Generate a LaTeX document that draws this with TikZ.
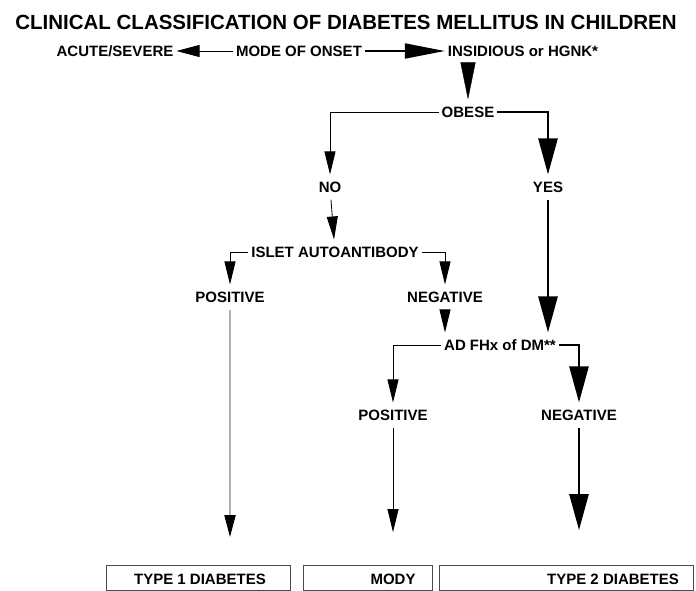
\documentclass[tikz,border=0pt]{standalone}
\usepackage{fontspec}
\setmainfont{Liberation Sans}
\usetikzlibrary{arrows.meta}
\tikzstyle{lbl} = [inner xsep=3pt, inner ysep=7pt, text height=10.7pt, text depth=0pt, font=\fontsize{15}{18}\selectfont\bfseries]
\tikzstyle{outbox} = [draw=black!70, line width=0.8pt, minimum height=25pt, inner sep=0pt]
\tikzstyle{arrow} = [line width=0.8pt, -{Triangle[length=23pt, width=11pt]}]
\tikzstyle{bigarrow} = [line width=2.6pt, -{Triangle[length=36pt, width=19pt]}]

\begin{document}
\begin{tikzpicture}[x=1pt, y=-1pt]
      \useasboundingbox (0,0) rectangle (696,591);
      \node (title)[font=\fontsize{20.5}{24}\selectfont\bfseries] at (346,22) {CLINICAL CLASSIFICATION OF DIABETES MELLITUS IN CHILDREN};
      \node (acute)[lbl] at (115,51) {ACUTE/SEVERE};
      \node (onset)[lbl] at (299,51) {MODE OF ONSET};
      \node (insid)[lbl] at (523,51) {INSIDIOUS or HGNK*};
      \node (obese)[lbl] at (468,112) {OBESE};
      \node (no)[lbl] at (330,187) {NO};
      \node (yes)[lbl] at (548,187) {YES};
      \node (islet)[lbl] at (335,252) {ISLET AUTOANTIBODY};
      \node (pos1)[lbl] at (230,297) {POSITIVE};
      \node (neg1)[lbl] at (445,297) {NEGATIVE};
      \node (fhx)[lbl] at (500,345) {AD FHx of DM**};
      \node (pos2)[lbl] at (393,415) {POSITIVE};
      \node (neg2)[lbl] at (579,415) {NEGATIVE};
      \node (t1box)[outbox, minimum width=184pt] at (198,578) {};
      \node (modybox)[outbox, minimum width=129pt] at (367.5,578) {};
      \node (t2box)[outbox, minimum width=254pt] at (566,578) {};
      \node (t1)[lbl] at (200,579) {TYPE 1 DIABETES};
      \node (mody)[lbl] at (393,579) {MODY};
      \node (t2)[lbl] at (613,579) {TYPE 2 DIABETES};
      \draw [line width=0.8pt, -{Triangle[length=23pt, width=12pt]}](onset.west)--(acute.east);
      \draw [line width=2pt, -{Triangle[length=40pt, width=15pt]}](onset.east)--(insid.west);
      \draw [-{Triangle[length=37pt, width=15pt]}](obese.north |- insid.south)--(obese.north);
      \draw [arrow](obese.west) -| (no.north);
      \draw [bigarrow](obese.east) -| (yes.north);
      \draw [arrow](no)--(islet);
      \draw [arrow](islet.west) -| (pos1.north);
      \draw [arrow](islet.east) -| (neg1.north);
      \draw [arrow](neg1.south)--(neg1.south |- fhx.north);
      \draw [bigarrow](yes.south)--(yes.south |- fhx.north);
      \draw [arrow](fhx.west) -| (pos2.north);
      \draw [bigarrow](fhx.east) -| (neg2.north);
      \draw [line width=2pt, draw=black!30, -{Triangle[length=22pt, width=11pt, color=black]}, shorten >=28pt](pos1.south)--(pos1.south |- t1box.north);
      \draw [arrow, shorten >=33pt](pos2.south)--(pos2.south |- modybox.north);
      \draw [bigarrow, shorten >=35pt](neg2.south)--(neg2.south |- t2box.north);
    \end{tikzpicture}
\end{document}
